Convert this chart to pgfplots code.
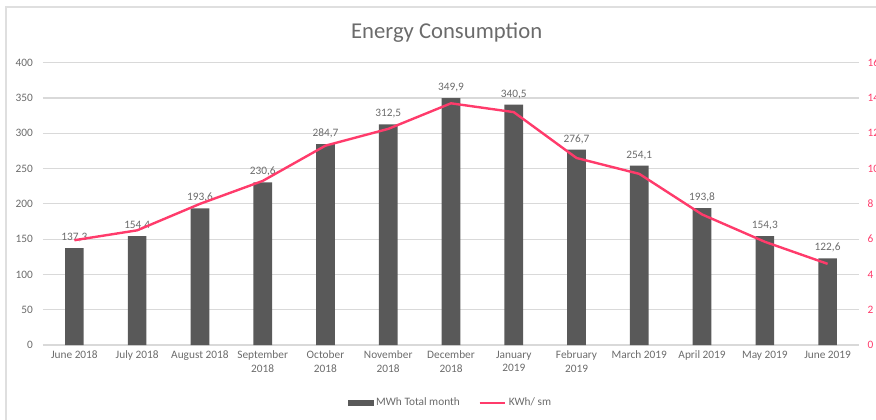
\documentclass[border=0pt]{standalone}
\usepackage{pgfplots}
\pgfplotsset{compat=1.18}
\usepackage{fontspec}
\setmainfont{Carlito}
\definecolor{barcol}{HTML}{595959}
\definecolor{linecol}{HTML}{FF3B6B}
\definecolor{txtcol}{HTML}{6B6B6B}
\definecolor{gridcol}{HTML}{D9D9D9}
\begin{document}
\begin{tikzpicture}
\path[use as bounding box] (0,0) rectangle (657pt,314.25pt);
\draw[gray!25, line width=0.8pt] (4.5pt,-20pt) -- (4.5pt,309pt) -- (700pt,309pt);
\node[text=txtcol, font=\fontsize{17}{20}\selectfont] at (335pt,290pt) {Energy Consumption};
\begin{axis}[
  at={(32.25pt,55.5pt)}, anchor=south west,
  scale only axis, width=612pt, height=211.7pt,
  xmin=-0.5, xmax=12.5, ymin=0, ymax=400,
  ytick={0,50,...,400},
  xtick={0,...,12},
  xticklabels={June 2018, July 2018, August 2018, September\\2018, October\\2018, November\\2018, December\\2018, January\\2019, February\\2019, March 2019, April 2019, May 2019, June 2019},
  xticklabel style={align=center, font=\fontsize{8.5}{10}\selectfont, text=txtcol, yshift=-1pt},
  yticklabel style={font=\fontsize{8.5}{10}\selectfont, text=txtcol, xshift=-4pt},
  /pgf/number format/assume math mode=true,
  axis x line*=bottom, axis y line*=left,
  y axis line style={draw=none},
  x axis line style={draw=gridcol, line width=0.8pt},
  major tick length=0pt,
  ymajorgrids, grid style={gridcol, line width=0.8pt},
  legend style={at={(0.5,-0.205)}, anchor=center, draw=none, legend columns=2,
    font=\fontsize{8.5}{10}\selectfont, text=txtcol,
    /tikz/every even column/.append style={column sep=12pt}},
  legend cell align=left,
]
\addplot[ybar, bar width=14pt, fill=barcol, draw=none,
  nodes near coords,
  every node near coord/.append style={font=\fontsize{8.5}{10}\selectfont, text=txtcol,
    /pgf/number format/fixed, /pgf/number format/fixed zerofill,
    /pgf/number format/precision=1, /pgf/number format/use comma, yshift=1pt},
  legend image code/.code={\fill[barcol] (0pt,-2.2pt) rectangle (19pt,2.2pt);}
] coordinates {
(0,137.3) (1,154.4) (2,193.6) (3,230.6) (4,284.7) (5,312.5) (6,349.9)
(7,340.5) (8,276.7) (9,254.1) (10,193.8) (11,154.3) (12,122.6)
};
\addlegendentry{MWh Total month}
\addlegendimage{linecol, line width=1.8pt, legend image code/.code={\draw[linecol, line width=1.8pt] (0pt,0pt) -- (19pt,0pt);}}
\addlegendentry{KWh/ sm}
\end{axis}
\begin{axis}[
  at={(32.25pt,55.5pt)}, anchor=south west,
  scale only axis, width=612pt, height=211.7pt,
  xmin=-0.5, xmax=12.5, ymin=0, ymax=16,
  ytick={0,2,...,16},
  axis x line=none, axis y line*=right,
  y axis line style={draw=none},
  major tick length=0pt,
  /pgf/number format/assume math mode=true,
  yticklabel style={font=\fontsize{8.5}{10}\selectfont, text=linecol, xshift=3pt},
]
\addplot[linecol, line width=1.8pt, mark=none] coordinates {
(0,5.94) (1,6.5) (2,8.0) (3,9.3) (4,11.3) (5,12.25) (6,13.7)
(7,13.2) (8,10.6) (9,9.7) (10,7.4) (11,5.85) (12,4.6)
};
\end{axis}
\end{tikzpicture}
\end{document}
